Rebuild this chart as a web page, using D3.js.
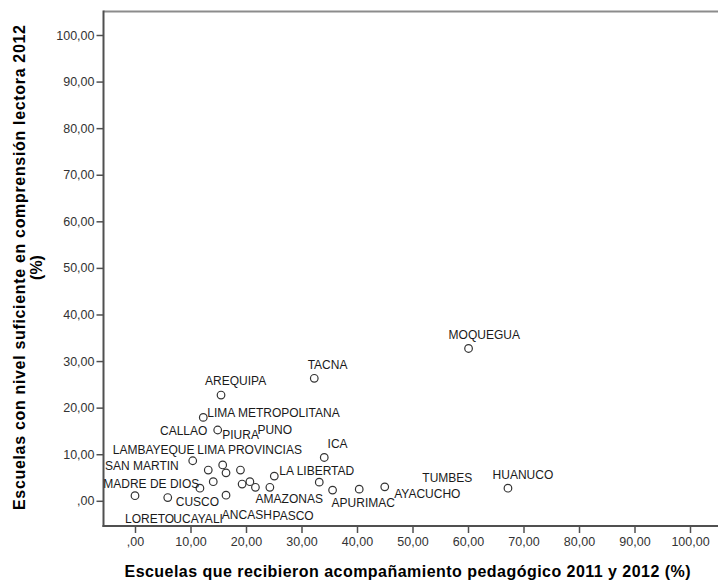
<!DOCTYPE html>
<html>
<head>
<meta charset="utf-8">
<script src="https://cdn.jsdelivr.net/npm/d3@7"></script>
<style>
  html, body { margin: 0; padding: 0; background: #fff; }
  svg { display: block; }
</style>
</head>
<body>
<svg id="chart" width="718" height="580"></svg>
<script>
// ---- Data ----
const regions = [
  "AREQUIPA", "LIMA METROPOLITANA", "CALLAO", "PIURA", "PUNO", "LAMBAYEQUE",
  "LIMA PROVINCIAS", "ICA", "SAN MARTIN", "LA LIBERTAD", "MADRE DE DIOS", "CUSCO",
  "LORETO", "UCAYALI", "ANCASH", "PASCO", "AMAZONAS", "APURIMAC", "AYACUCHO",
  "TUMBES", "HUANUCO", "MOQUEGUA", "TACNA", "CAJAMARCA", "HUANCAVELICA", "JUNIN"
];
// % schools receiving pedagogical accompaniment 2011 & 2012
const acompanamiento = [
  15.5, 12.3, 14.9, 15.8, 19.0, 10.4,
  13.2, 34.1, 14.1, 25.1, 11.7, 5.9,
  0.0, 16.4, 21.7, 20.7, 24.3, 35.6, 40.4,
  45.0, 67.2, 60.1, 32.3, 16.4, 19.3, 33.2
];
// % schools with sufficient level in reading comprehension 2012
const suficiente = [
  22.7, 17.9, 15.2, 7.7, 6.6, 8.6,
  6.6, 9.3, 4.1, 5.3, 2.7, 0.7,
  1.1, 1.2, 2.9, 4.1, 2.9, 2.3, 2.5,
  3.0, 2.7, 32.7, 26.3, 6.0, 3.6, 4.0
];
// whether SPSS drew a label for the point
const labelShown = [
  true, true, true, true, true, true,
  true, true, true, true, true, true,
  true, true, true, true, true, true, true,
  true, true, true, true, false, false, false
];
const xTicks = [0, 10, 20, 30, 40, 50, 60, 70, 80, 90, 100];
const yTicks = [0, 10, 20, 30, 40, 50, 60, 70, 80, 90, 100];
const xTickLabels = [",00", "10,00", "20,00", "30,00", "40,00", "50,00", "60,00", "70,00", "80,00", "90,00", "100,00"];
const yTickLabels = [",00", "10,00", "20,00", "30,00", "40,00", "50,00", "60,00", "70,00", "80,00", "90,00", "100,00"];
const xTitle = "Escuelas que recibieron acompañamiento pedagógico 2011 y 2012 (%)";
const yTitleLines = ["Escuelas con nivel suficiente en comprensión lectora 2012", "(%)"];

// ---- Label placement (pixel offsets from each point, SPSS auto layout) ----
const labelDx = [
  -16, 4, -57.7, -0.4, 17, -80,
  -11, 3.3, -108.3, 5, -96.7, 8,
  -10, -52.7, -33.6, 22.7, -14.3, -1, 35,
  37.6, -15.4, -20, -6.6, 0, 0, 0
];
const labelDy = [
  -10, 0, 5, -26, -36, -6.7,
  -16, -9, -11.7, -1, 0, 8.3,
  27, 27.4, 32, 38.3, 16, 17.3, 9,
  -5, -9.3, -9.6, -9, 0, 0, 0
];

// ---- Layout ----
const frame = { left: 103.5, top: 11.5, bottom: 526, right: 720 };
const font = "'Liberation Sans', Arial, Helvetica, sans-serif";

const svg = d3.select("#chart");

const x = d3.scaleLinear().domain([0, 100]).range([135, 690]);
const y = d3.scaleLinear().domain([0, 100]).range([500.8, 35]);

// frame lines
svg.append("line")
  .attr("x1", frame.left).attr("x2", frame.right)
  .attr("y1", frame.top).attr("y2", frame.top)
  .attr("stroke", "#8c8c8c").attr("stroke-width", 2);
svg.append("line")
  .attr("x1", frame.left).attr("x2", frame.left)
  .attr("y1", frame.top - 1).attr("y2", frame.bottom + 1)
  .attr("stroke", "#505050").attr("stroke-width", 2);
svg.append("line")
  .attr("x1", frame.left - 1).attr("x2", frame.right)
  .attr("y1", frame.bottom).attr("y2", frame.bottom)
  .attr("stroke", "#505050").attr("stroke-width", 2);

// x axis
const xAxis = d3.axisBottom(x)
  .tickValues(xTicks)
  .tickFormat((d, i) => xTickLabels[i])
  .tickSize(7)
  .tickPadding(4.5);
const gx = svg.append("g")
  .attr("transform", `translate(0,${frame.bottom})`)
  .call(xAxis);
gx.select(".domain").remove();
gx.selectAll(".tick line").attr("stroke", "#505050").attr("stroke-width", 1.5);
gx.selectAll(".tick text")
  .attr("fill", "#333").attr("font-family", font).attr("font-size", "12.5px");

// y axis
const yAxis = d3.axisLeft(y)
  .tickValues(yTicks)
  .tickFormat((d, i) => yTickLabels[i])
  .tickSize(7)
  .tickPadding(2);
const gy = svg.append("g")
  .attr("transform", `translate(${frame.left},0)`)
  .call(yAxis);
gy.select(".domain").remove();
gy.selectAll(".tick line").attr("stroke", "#505050").attr("stroke-width", 1.5);
gy.selectAll(".tick text")
  .attr("fill", "#333").attr("font-family", font).attr("font-size", "12.5px");

// axis titles
svg.append("text")
  .attr("x", 407.5).attr("y", 576.5)
  .attr("text-anchor", "middle")
  .attr("font-family", font).attr("font-size", "16px").attr("font-weight", "bold")
  .attr("fill", "#000")
  .attr("textLength", 566).attr("lengthAdjust", "spacing")
  .text(xTitle);

const yTitleWidths = [485, null];
const yt = svg.append("text")
  .attr("transform", "translate(24.5,267.5) rotate(-90)")
  .attr("text-anchor", "middle")
  .attr("font-family", font).attr("font-size", "16px").attr("font-weight", "bold")
  .attr("fill", "#000");
yTitleLines.forEach((line, i) => {
  const t = yt.append("tspan")
    .attr("x", 0).attr("y", i * 17.5)
    .text(line);
  if (yTitleWidths[i]) t.attr("textLength", yTitleWidths[i]).attr("lengthAdjust", "spacing");
});

// data
const data = regions.map((r, i) => ({
  name: r, xv: acompanamiento[i], yv: suficiente[i],
  show: labelShown[i], dx: labelDx[i], dy: labelDy[i]
}));

svg.append("g").selectAll("circle").data(data).enter().append("circle")
  .attr("cx", d => x(d.xv))
  .attr("cy", d => y(d.yv))
  .attr("r", 3.8)
  .attr("fill", "#fff")
  .attr("stroke", "#333")
  .attr("stroke-width", 1.2);

svg.append("g").selectAll("text").data(data.filter(d => d.show)).enter().append("text")
  .attr("x", d => x(d.xv) + d.dx)
  .attr("y", d => y(d.yv) + d.dy)
  .attr("font-family", font).attr("font-size", "12px")
  .attr("fill", "#1a1a1a")
  .text(d => d.name);
</script>
</body>
</html>
